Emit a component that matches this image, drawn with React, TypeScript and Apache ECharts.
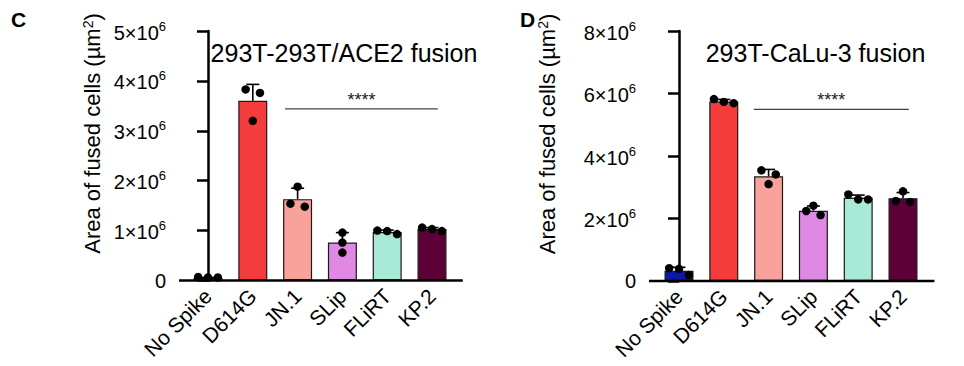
import React, { useEffect, useRef } from "react";
import * as echarts from "echarts";

// ---------- data (values in units of 10^6 µm²) ----------
const categories = ["No Spike", "D614G", "JN.1", "SLip", "FLiRT", "KP.2"];
const colorsC = ["#1a1aa6", "#f53c3c", "#f9a29c", "#df88e4", "#a9e9d8", "#5e0038"];
const colorsD = ["#0b17a8", "#f53c3c", "#f9a29c", "#df88e4", "#a9e9d8", "#5e0038"];

const meansC = [0.05, 3.6, 1.63, 0.76, 0.97, 1.03];
const sdC = [0.01, 0.33, 0.22, 0.2, 0.04, 0.03];
const pointsC = [
  [0.07, 0.06, 0.06],
  [3.83, 3.2, 3.76],
  [1.54, 1.88, 1.48],
  [0.96, 0.76, 0.56],
  [1.0, 0.99, 0.93],
  [1.06, 1.03, 0.99],
];
const jitterC = [
  [-0.22, 0, 0.22],
  [-0.16, 0, 0.16],
  [-0.16, 0, 0.16],
  [0, 0, 0],
  [-0.22, 0, 0.22],
  [-0.22, 0, 0.22],
];

const meansD = [0.33, 5.74, 3.35, 2.25, 2.66, 2.65];
const sdD = [0.11, 0.07, 0.22, 0.15, 0.09, 0.18];
const pointsD = [
  [0.41, 0.39, 0.19],
  [5.82, 5.73, 5.69],
  [3.54, 3.1, 3.41],
  [2.24, 2.41, 2.11],
  [2.77, 2.61, 2.61],
  [2.56, 2.87, 2.53],
];
const jitterD = [
  [-0.22, 0, 0.22],
  [-0.22, 0, 0.22],
  [-0.16, 0, 0.16],
  [-0.16, 0, 0.16],
  [-0.22, 0, 0.22],
  [-0.16, 0, 0.16],
];

// significance bar: [from category, to category, level]
const sigC = [1.72, 5.13, 3.44];
const sigD = [1.67, 5.13, 5.49];

const yMaxC = 5;
const yStepC = 1;
const yMaxD = 8;
const yStepD = 2;

const titleC = "293T-293T/ACE2 fusion";
const titleD = "293T-CaLu-3 fusion";
const yName = "Area of fused cells (µm{s|2})";

// ---------- layout ----------
const FONT = "'Liberation Sans', Arial, Helvetica, sans-serif";
const G1 = { left: 185.6, top: 31, width: 268.8, height: 249.5, off: 6.6, ext: 8.4 };
const G2 = { left: 656.6, top: 31, width: 268.8, height: 250, off: 7.6, ext: 9 };

function yLabel(v: number) {
  return v === 0 ? "0" : `{n|${v}×10}{s|6}`;
}

const yRich = {
  n: { fontSize: 20, fontFamily: FONT, color: "#000", padding: [3, 0, 0, 0] },
  s: { fontSize: 13, fontFamily: FONT, color: "#000", verticalAlign: "top" },
};

function makeAxes(gi: number, max: number, step: number, off: number) {
  const x = [
    {
      gridIndex: gi,
      type: "category",
      data: categories,
      axisLine: { show: false },
      axisTick: { alignWithLabel: true, length: 10, lineStyle: { color: "#000", width: 2.5 } },
      axisLabel: { rotate: 45, fontSize: 21, color: "#000", margin: 12, fontFamily: FONT },
    },
    { gridIndex: gi, type: "value", min: -0.5, max: 5.5, show: false },
  ];
  const y = {
    gridIndex: gi,
    type: "value",
    min: 0,
    max,
    interval: step,
    offset: off,
    axisLine: { show: true, lineStyle: { color: "#000", width: 2.5 } },
    axisTick: { show: true, length: 11, lineStyle: { color: "#000", width: 2.5 } },
    splitLine: { show: false },
    axisLabel: { margin: 13, fontSize: 20, fontFamily: FONT, color: "#000", formatter: yLabel, rich: yRich },
  };
  return { x, y };
}

function panelSeries(
  gi: number,
  means: number[],
  sds: number[],
  points: number[][],
  jitter: number[][],
  colors: string[],
  sig: number[]
) {
  const catX = gi * 2;
  const valX = gi * 2 + 1;
  return [
    {
      type: "bar",
      xAxisIndex: catX,
      yAxisIndex: gi,
      barWidth: 29,
      data: means.map((v, i) => ({ value: v, itemStyle: { color: colors[i] } })),
      itemStyle: { borderColor: "#1a1a1a", borderWidth: 1.2 },
      z: 2,
    },
    {
      type: "custom",
      xAxisIndex: valX,
      yAxisIndex: gi,
      data: means.map((m, i) => [i, m, sds[i]]),
      renderItem: (_p: any, api: any) => {
        const x = api.value(0);
        const m = api.value(1);
        const s = api.value(2);
        const b = api.coord([x, m]);
        const t = api.coord([x, m + s]);
        const st = { stroke: "#000", lineWidth: 1.6 };
        return {
          type: "group",
          children: [
            { type: "line", shape: { x1: b[0], y1: b[1], x2: t[0], y2: t[1] }, style: st },
            { type: "line", shape: { x1: t[0] - 6.5, y1: t[1], x2: t[0] + 6.5, y2: t[1] }, style: st },
          ],
        };
      },
      z: 3,
    },
    {
      type: "scatter",
      xAxisIndex: valX,
      yAxisIndex: gi,
      symbolSize: 8.5,
      itemStyle: { color: "#000", opacity: 1 },
      data: points.flatMap((arr, i) => arr.map((v, j) => [i + jitter[i][j], v])),
      z: 4,
    },
    {
      type: "custom",
      xAxisIndex: valX,
      yAxisIndex: gi,
      data: [sig],
      encode: { x: [0, 1], y: 2 },
      renderItem: (_p: any, api: any) => {
        const a = api.coord([api.value(0), api.value(2)]);
        const b = api.coord([api.value(1), api.value(2)]);
        return {
          type: "group",
          children: [
            { type: "line", shape: { x1: a[0], y1: a[1], x2: b[0], y2: b[1] }, style: { stroke: "#444", lineWidth: 1.2 } },
            {
              type: "text",
              x: (a[0] + b[0]) / 2,
              y: a[1] - 9,
              style: { text: "****", fontSize: 18, fontFamily: FONT, fill: "#222", align: "center", verticalAlign: "middle" },
            },
          ],
        };
      },
      z: 3,
    },
  ];
}

export default function App() {
  const ref = useRef<HTMLDivElement>(null);
  useEffect(() => {
    if (!ref.current) return;
    const chart = echarts.init(ref.current, undefined, { renderer: "svg" });
    const a1 = makeAxes(0, yMaxC, yStepC, G1.off);
    const a2 = makeAxes(1, yMaxD, yStepD, G2.off);
    const axisLineStyle = { stroke: "#000", lineWidth: 2.5 };
    const g1Bottom = G1.top + G1.height;
    const g2Bottom = G2.top + G2.height;
    const nameStyle = (text: string) => ({
      text,
      fontSize: 22,
      fontFamily: FONT,
      fill: "#000",
      align: "center",
      verticalAlign: "middle",
      rich: { s: { fontSize: 14, fontFamily: FONT, fill: "#000", verticalAlign: "top" } },
    });
    chart.setOption({
      animation: false,
      backgroundColor: "#fff",
      textStyle: { fontFamily: FONT },
      grid: [
        { left: G1.left, top: G1.top, width: G1.width, height: G1.height },
        { left: G2.left, top: G2.top, width: G2.width, height: G2.height },
      ],
      xAxis: [...a1.x, ...a2.x],
      yAxis: [a1.y, a2.y],
      series: [
        ...panelSeries(0, meansC, sdC, pointsC, jitterC, colorsC, sigC),
        ...panelSeries(1, meansD, sdD, pointsD, jitterD, colorsD, sigD),
      ],
      graphic: [
        { type: "line", shape: { x1: G1.left - G1.off, y1: g1Bottom, x2: G1.left + G1.width + G1.ext, y2: g1Bottom }, style: axisLineStyle, z: 10 },
        { type: "line", shape: { x1: G2.left - G2.off, y1: g2Bottom, x2: G2.left + G2.width + G2.ext, y2: g2Bottom }, style: axisLineStyle, z: 10 },
        { type: "text", x: 11, y: 9, style: { text: "C", fontSize: 21, fontWeight: "bold", fontFamily: FONT, fill: "#000" } },
        { type: "text", x: 520, y: 9, style: { text: "D", fontSize: 21, fontWeight: "bold", fontFamily: FONT, fill: "#000" } },
        { type: "text", x: 344, y: 53, style: { text: titleC, fontSize: 25, fontFamily: FONT, fill: "#000", align: "center", verticalAlign: "middle" } },
        { type: "text", x: 815.5, y: 53, style: { text: titleD, fontSize: 25, fontFamily: FONT, fill: "#000", align: "center", verticalAlign: "middle" } },
        { type: "text", x: 92, y: 133.5, rotation: Math.PI / 2, style: nameStyle(yName) },
        { type: "text", x: 547, y: 134, rotation: Math.PI / 2, style: nameStyle(yName) },
      ],
    });
    return () => chart.dispose();
  }, []);
  return (
    <div
      ref={ref}
      style={{ position: "fixed", left: 0, top: 0, width: 964, height: 366, background: "#fff" }}
    />
  );
}
